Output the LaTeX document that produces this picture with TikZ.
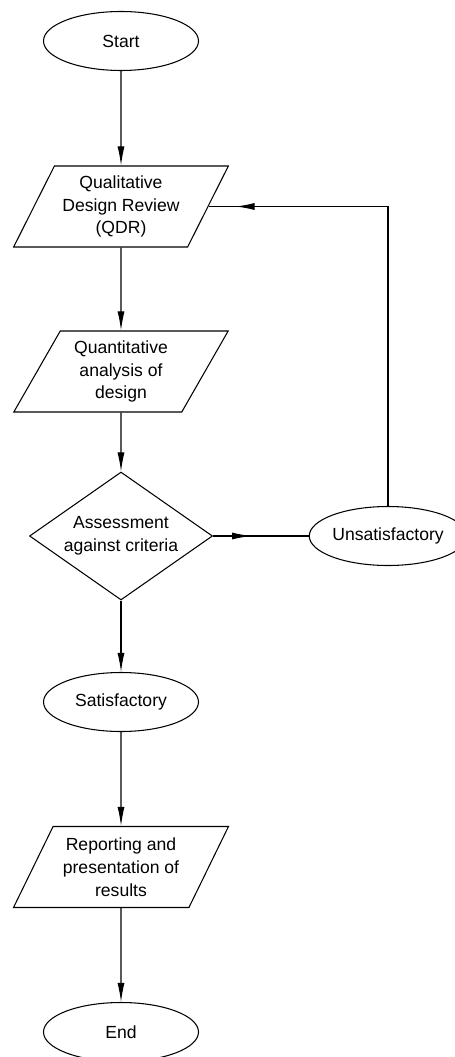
\documentclass[tikz,border=0pt]{standalone}
\usepackage{fontspec}
\setmainfont{Liberation Sans}
\usetikzlibrary{arrows.meta, shapes.geometric, decorations.markings}

\begin{document}
\begin{tikzpicture}[arrow/.style={>={Latex[length=3.8mm, width=1.4mm]}, semithick},
    every node/.style={semithick, align=center, font=\fontsize{10}{13}\selectfont},
    terminal/.style={draw, ellipse, inner sep=0pt, minimum width=3.1cm, minimum height=1.18cm},
    databox/.style={draw, trapezium, trapezium left angle=60, trapezium right angle=120,
        trapezium stretches=true, inner sep=0pt, minimum width=4.3cm, minimum height=1.62cm},
    decision/.style={draw, diamond, aspect=1.43, inner sep=0pt, minimum width=3.66cm, minimum height=2.56cm},
    midarrow/.style={postaction={decorate}, decoration={markings, mark=at position #1 with {\arrow{>}}}}]
                \clip (0,0) rectangle (9.1,-21.14);
                \node[terminal] (start) at (2.42,-0.82) {Start};
                \node[databox] (qdr) at (2.42,-4.13) {Qualitative\\ Design Review\\ (QDR)};
                \node[databox] (quant) at (2.42,-7.43) {Quantitative\\ analysis of\\ design};
                \node[decision] (assess) at (2.42,-10.72) {Assessment\\ against criteria};
                \node[terminal, minimum width=3.04cm] (unsat) at (7.76,-10.72) {Unsatisfactory};
                \node[terminal] (sat) at (2.42,-14.04) {Satisfactory};
                \node[databox] (report) at (2.42,-17.34) {Reporting and\\ presentation of\\ results};
                \node[terminal] (end) at (2.42,-20.64) {End};
                \draw[->, arrow] (start) -- (qdr);
                \draw[->, arrow] (qdr) -- (quant);
                \draw[->, arrow] (quant) -- (assess);
                \draw[->, arrow] (assess) -- (sat);
                \draw[->, arrow] (sat) -- (report);
                \draw[->, arrow] (report) -- (end);
                \draw[arrow, midarrow=0.76cm] (assess.east) -- (unsat.west);
                \draw[arrow, midarrow=-0.54cm] (unsat.north) |- (qdr.east);
            \end{tikzpicture}
\end{document}
